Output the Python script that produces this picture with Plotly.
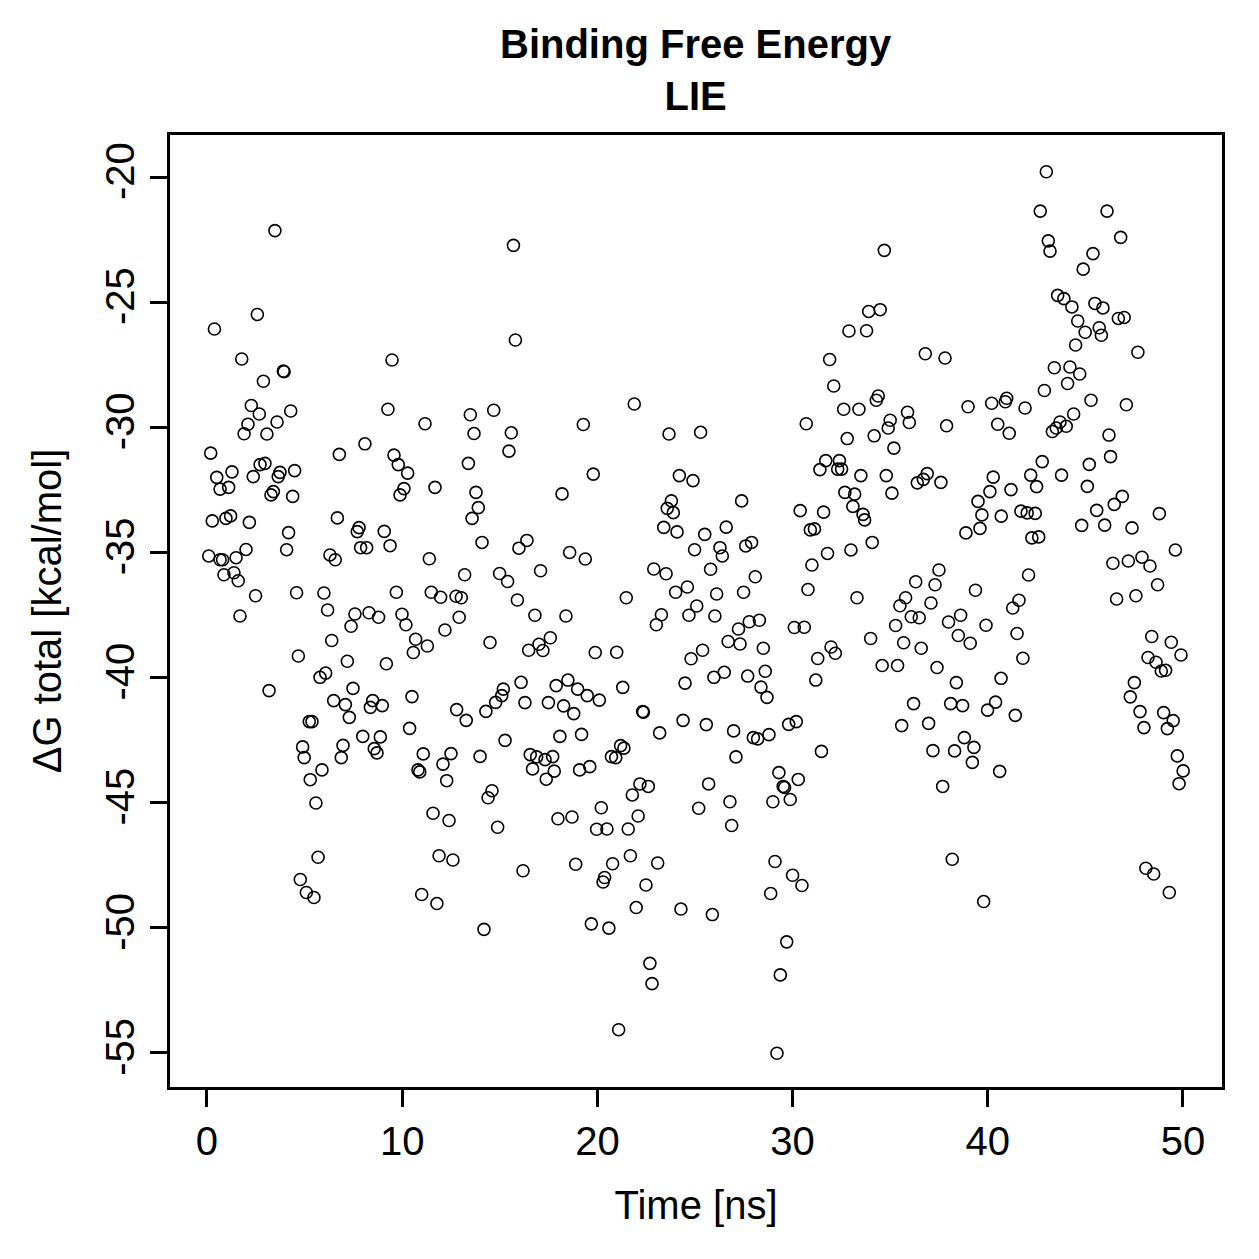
import plotly.graph_objects as go

# ---- data (time in ns, dG total in kcal/mol) ----
time_a = [3.48, 2.58, 0.38, 1.78, 9.48, 3.91, 3.95, 2.89, 2.27, 9.27, 2.68, 4.29, 11.17, 2.10, 3.59, 1.90, 3.07, 8.09, 0.19, 6.78,
          9.58, 9.80, 10.28, 11.68, 10.09, 9.89, 2.72, 2.97, 1.28, 0.50, 2.37, 3.74, 3.65, 4.49, 0.67, 1.11, 3.40, 3.28, 4.39, 0.27,
          0.97, 1.21, 2.17, 6.68, 7.79, 7.70, 9.08, 4.18, 0.09, 0.67, 0.80, 1.49, 2.00, 4.08, 6.30, 6.57, 7.87, 8.18, 9.38, 11.39,
          0.87, 1.38, 1.60, 2.49, 4.59, 5.99, 9.70, 11.49, 11.97, 12.76, 13.03, 1.69, 6.18, 7.58, 8.30, 8.79, 9.99]
dg_a = [-22.14, -25.49, -26.07, -27.27, -27.31, -27.75, -27.78, -28.16, -29.13, -29.28, -29.47, -29.35, -29.86, -29.88, -29.79, -30.26, -30.27, -30.66, -31.03, -31.08,
        -31.11, -31.49, -31.83, -32.40, -32.45, -32.70, -31.49, -31.44, -31.78, -32.00, -31.97, -31.80, -31.97, -31.73, -32.47, -32.40, -32.57, -32.70, -32.76, -33.74,
        -33.64, -33.54, -33.80, -33.62, -34.01, -34.17, -34.16, -34.21, -35.14, -35.29, -35.29, -35.21, -34.88, -34.89, -35.10, -35.29, -34.81, -34.81, -34.73, -35.25,
        -35.89, -35.81, -36.13, -36.73, -36.61, -36.62, -36.59, -36.59, -36.79, -36.75, -36.81, -37.54, -37.30, -37.46, -37.41, -37.59, -37.47]

time_b = [10.19, 7.38, 6.39, 10.69, 11.29, 10.57, 12.19, 12.92, 4.68, 7.19, 9.19, 6.08, 5.79, 3.18, 7.48, 10.50, 6.49, 7.09, 8.49, 8.37,
          8.98, 7.29, 12.79, 5.24, 5.38, 10.38, 4.90, 6.97, 7.98, 8.88, 8.57, 8.71, 4.98, 6.88, 11.08, 12.50, 10.81, 10.90, 12.09, 12.28,
          5.89, 5.29, 5.58, 11.58, 12.40, 5.69, 11.89, 12.60, 4.78, 5.09, 5.48, 11.00, 11.78]
dg_b = [-37.89, -37.95, -38.52, -38.47, -38.74, -39.00, -38.10, -37.59, -39.14, -39.35, -39.45, -39.82, -39.99, -40.52, -40.43, -40.76, -40.92, -41.08, -40.92, -41.19,
        -41.12, -41.59, -41.28, -41.76, -41.76, -42.03, -42.77, -42.71, -42.35, -42.37, -42.84, -43.01, -43.20, -43.20, -43.05, -43.04, -43.69, -43.77, -43.46, -44.12,
        -43.69, -44.08, -45.01, -45.42, -45.71, -47.18, -47.12, -47.29, -48.07, -48.59, -48.79, -48.67, -49.03]

time_c = [15.70, 15.80, 21.89, 13.49, 14.69, 13.68, 15.59, 15.47, 19.28, 23.67, 25.29, 13.39, 19.79, 24.20, 24.90, 18.19, 13.78, 13.90, 13.58, 23.79,
          23.58, 23.89, 25.50, 23.40, 24.08, 14.09, 16.39, 15.98, 18.58, 19.38, 24.98, 25.80, 13.20, 14.99, 15.40, 17.09, 22.89, 23.52, 24.61, 24.01,
          21.48, 15.90, 25.09, 26.11, 16.80, 18.39, 23.28, 24.69, 26.02]
dg_c = [-22.73, -26.51, -29.07, -29.50, -29.32, -30.25, -30.22, -30.95, -29.89, -30.27, -30.20, -31.44, -31.87, -31.93, -32.13, -32.66, -32.60, -33.21, -33.64, -32.94,
        -33.24, -33.41, -34.28, -34.00, -34.18, -34.60, -34.52, -34.83, -35.00, -35.26, -34.89, -35.67, -35.89, -35.84, -36.16, -35.73, -35.66, -35.85, -36.38, -36.59,
        -36.81, -36.90, -37.14, -36.66, -37.51, -37.54, -37.49, -37.51, -37.54]

time_d = [23.02, 14.50, 17.59, 17.01, 16.48, 17.21, 19.89, 20.99, 25.39, 24.80, 16.09, 17.89, 18.49, 18.99, 19.48, 20.10, 21.30, 24.49, 25.97, 15.18,
          15.10, 14.79, 14.29, 16.29, 17.49, 18.27, 18.79, 13.28, 22.32, 22.36, 24.39, 25.58, 23.19, 15.27, 18.08, 19.19, 13.99, 16.56, 16.89, 17.32,
          17.71, 16.68, 17.79, 17.38, 19.09, 19.61, 20.72, 20.94, 21.19, 21.36, 14.60, 14.40, 22.18, 22.61, 21.79, 25.70, 25.19, 20.20, 22.09, 17.98,
          18.70, 19.96, 20.49, 21.58, 14.89, 16.19, 18.89, 20.78, 21.69, 23.09, 20.37, 20.29, 22.49, 21.99, 24.28, 25.89, 14.19, 19.69, 20.59, 22.69,
          22.80, 21.09]
dg_d = [-37.89, -38.60, -38.41, -38.67, -38.91, -38.92, -39.00, -38.99, -38.91, -39.25, -40.19, -40.32, -40.10, -40.46, -40.72, -40.90, -40.39, -40.22, -39.99, -40.46,
        -40.72, -40.99, -41.35, -41.00, -41.00, -41.13, -41.44, -41.71, -41.36, -41.38, -41.71, -41.88, -42.21, -42.51, -42.35, -42.27, -43.15, -43.08, -43.17, -43.28,
        -43.16, -43.65, -43.74, -44.06, -43.69, -43.56, -43.16, -43.20, -42.72, -42.82, -44.52, -44.80, -44.25, -44.35, -44.69, -44.25, -45.22, -45.20, -45.53, -45.64,
        -45.57, -46.06, -46.05, -46.05, -45.98, -47.72, -47.46, -47.44, -47.12, -47.41, -47.99, -48.17, -48.29, -49.19, -49.25, -49.47, -50.06, -49.84, -50.01, -51.42,
        -52.23, -54.07]

time_e = [34.70, 33.90, 34.49, 32.89, 33.79, 36.80, 37.81, 31.90, 32.11, 34.39, 34.29, 32.62, 33.40, 30.70, 35.89, 35.98, 35.00, 34.90, 34.18, 32.80,
          35.19, 37.89, 38.99, 31.70, 32.40, 31.40, 32.31, 32.51, 33.50, 34.80, 36.90, 36.70, 36.39, 37.60, 32.68, 33.18, 35.09, 33.09, 33.61, 33.69,
          27.39, 30.39, 31.59, 30.91, 31.12, 34.08, 32.99, 31.79, 30.99, 38.88, 26.60, 26.28, 26.40, 27.60, 27.90, 28.09, 30.79, 27.49, 33.30, 37.50,
          37.30, 36.31, 35.79, 35.50, 37.09, 39.37]
dg_e = [-22.93, -25.37, -25.30, -26.15, -26.14, -27.06, -27.23, -27.29, -28.35, -28.75, -28.92, -29.28, -29.28, -29.86, -29.40, -29.81, -29.72, -30.03, -30.34, -30.45,
        -30.83, -29.94, -29.18, -31.33, -31.33, -31.69, -31.67, -31.67, -31.93, -31.93, -31.85, -32.08, -32.22, -32.20, -32.60, -32.67, -32.63, -33.16, -33.48, -33.70,
        -32.94, -33.33, -33.39, -34.10, -34.06, -34.60, -34.90, -35.04, -35.50, -34.22, -33.99, -34.81, -35.14, -34.74, -34.60, -35.97, -36.48, -36.59, -36.81, -35.70,
        -36.29, -36.17, -36.81, -37.13, -37.02, -36.51]

time_f = [27.23, 27.78, 28.30, 26.70, 27.31, 28.50, 30.09, 30.60, 31.97, 32.19, 31.29, 31.19, 36.08, 36.49, 35.28, 37.99, 38.61, 38.49, 39.10, 34.00,
          35.69, 36.59, 34.59, 35.38, 37.40, 38.39, 36.20, 38.10, 38.71, 36.97, 35.59, 38.80, 39.29, 39.21, 37.19, 38.30, 37.69, 38.18, 26.50, 27.70,
          28.60, 28.38, 28.69, 26.98, 27.99, 28.21, 28.79, 29.80, 30.19, 31.48, 27.10, 29.30, 29.52, 29.59, 30.29, 26.79, 28.99, 29.88, 26.88, 29.10,
          30.00, 30.48, 28.88, 29.70, 29.37, 29.20]
dg_f = [-38.06, -37.77, -37.71, -38.56, -38.66, -38.83, -38.00, -37.99, -38.78, -39.03, -39.24, -40.10, -37.57, -37.61, -37.92, -37.78, -37.51, -38.32, -38.63, -38.44,
        -38.61, -38.83, -39.52, -39.52, -39.60, -40.20, -41.04, -41.04, -41.12, -41.83, -41.92, -42.40, -42.79, -43.39, -42.92, -42.93, -44.35, -47.26, -39.79, -39.94,
        -39.75, -40.38, -40.79, -42.13, -42.40, -42.45, -42.28, -41.87, -41.76, -42.95, -43.17, -43.80, -44.35, -44.39, -44.07, -44.96, -44.96, -44.87, -45.91, -47.35,
        -47.90, -48.31, -48.63, -50.56, -51.88, -55.01]

time_g = [43.00, 42.69, 46.11, 43.10, 43.19, 46.81, 45.39, 44.89, 43.58, 43.90, 44.31, 45.49, 45.90, 44.61, 46.69, 46.99, 45.71, 45.82, 44.99, 44.50,
          47.69, 43.41, 44.21, 44.71, 44.09, 42.90, 40.20, 40.97, 40.90, 41.91, 45.29, 47.10, 40.51, 41.10, 43.31, 43.51, 43.70, 44.02, 44.40, 46.21,
          46.29, 42.79, 40.28, 42.20, 42.50, 43.78, 45.20, 45.10, 39.50, 40.11, 41.19, 39.70, 39.60, 40.69, 41.70, 42.02, 42.43, 42.26, 42.61, 45.58,
          46.48, 46.89, 44.81, 45.99, 47.39, 48.79, 49.61, 46.41, 47.20, 47.90, 48.31, 42.09, 41.60, 41.28, 46.60, 47.59, 48.70]
dg_g = [-19.79, -21.36, -21.36, -22.55, -22.96, -22.41, -23.06, -23.68, -24.73, -24.86, -25.19, -25.05, -25.23, -25.75, -25.65, -25.61, -26.02, -26.32, -26.20, -26.71,
        -27.00, -27.62, -27.59, -27.87, -28.25, -28.53, -29.04, -28.84, -28.98, -29.23, -28.92, -29.10, -29.88, -30.24, -30.17, -30.03, -29.79, -29.96, -29.47, -30.31,
        -31.17, -31.37, -31.99, -31.91, -32.37, -31.91, -31.48, -32.36, -32.96, -32.57, -32.49, -33.50, -34.04, -33.55, -33.35, -33.42, -33.44, -34.42, -34.38, -33.32,
        -33.08, -32.76, -33.92, -33.91, -34.02, -33.45, -34.90, -35.43, -35.34, -35.19, -35.54, -35.90, -36.91, -37.22, -36.86, -36.73, -36.29]

time_h = [39.91, 41.50, 41.80, 40.68, 40.40, 39.99, 41.41, 40.61, 39.79, 48.40, 49.40, 49.90, 48.21, 48.62, 48.89, 49.11, 47.51, 47.30, 47.80, 48.00,
          49.01, 49.50, 49.20, 49.71, 50.01, 49.80, 48.10, 48.50, 49.30]
dg_h = [-37.91, -38.24, -39.23, -40.03, -40.98, -41.30, -41.51, -43.75, -48.95, -38.36, -38.59, -39.10, -39.20, -39.39, -39.74, -39.71, -40.20, -40.77, -41.36, -42.00,
        -41.40, -41.72, -42.04, -43.13, -43.73, -44.24, -47.62, -47.85, -48.59]

x_ticks = [0, 10, 20, 30, 40, 50]
y_ticks = [-20, -25, -30, -35, -40, -45, -50, -55]

time_ns = time_a + time_b + time_c + time_d + time_e + time_f + time_g + time_h
dg_total = dg_a + dg_b + dg_c + dg_d + dg_e + dg_f + dg_g + dg_h

FONT = "Liberation Sans, Arial, Helvetica, sans-serif"

fig = go.Figure(go.Scatter(
    x=time_ns, y=dg_total, mode="markers",
    marker=dict(symbol="circle-open", size=12, color="black", line=dict(width=1.6)),
    hoverinfo="x+y",
))

axis_common = dict(
    showgrid=False, zeroline=False, showline=True, mirror=True,
    linecolor="black", linewidth=2.5,
    ticks="outside", ticklen=17, tickwidth=2.5, tickcolor="black",
    tickfont=dict(family=FONT, size=40, color="black"),
)

fig.update_layout(
    width=1259, height=1259,
    margin=dict(l=170, r=37, t=135, b=172),
    paper_bgcolor="white", plot_bgcolor="white",
    showlegend=False,
    font=dict(family=FONT, size=40, color="black"),
    xaxis=dict(range=[-1.895, 52.0], tickvals=x_ticks, ticktext=[str(v) for v in x_ticks],
               title=dict(text="Time [ns]", font=dict(family=FONT, size=40), standoff=30),
               **axis_common),
    yaxis=dict(range=[-56.36, -18.32], tickvals=y_ticks, ticktext=[str(v) for v in y_ticks],
               tickangle=-90,
               title=dict(text="ΔG total [kcal/mol]", font=dict(family=FONT, size=40), standoff=25),
               **axis_common),
    annotations=[dict(
        text="<b>Binding Free Energy</b><br><b>LIE</b>",
        xref="paper", yref="paper", x=0.5, y=1.0, xanchor="center", yanchor="middle",
        yshift=65, showarrow=False, font=dict(family=FONT, size=40, color="black"),
    )],
)

fig.write_html("out.html")
